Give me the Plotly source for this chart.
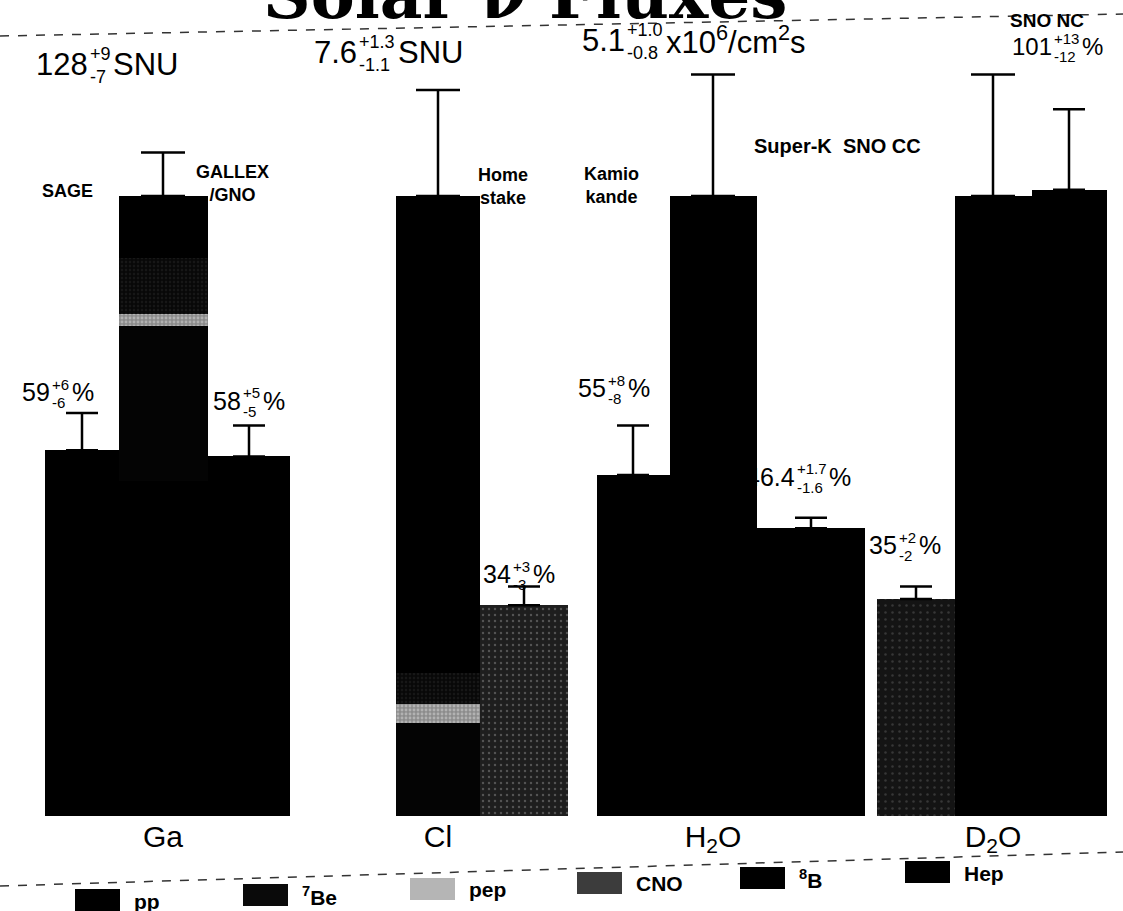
import plotly.graph_objects as go

# ---------------- data ----------------
targets = ["Ga", "Cl", "H<sub>2</sub>O", "D<sub>2</sub>O"]
components = ["pp", "<sup>7</sup>Be", "pep", "CNO", "<sup>8</sup>B", "Hep"]
# SSM prediction split by source, % of each target's total prediction
ssm_pp = [54, 0, 0, 0]
ssm_be7 = [25, 15, 0, 0]
ssm_pep = [2, 3, 0, 0]
ssm_cno = [9, 5, 0, 0]
ssm_b8 = [10, 77, 100, 100]
ssm_hep = [0, 0, 0, 0]
# SSM absolute rates written above the bars (D2O uses the same 8B flux as H2O)
ssm_rate = [128, 7.6, 5.1, 5.1]
ssm_rate_plus = [9, 1.3, 1.0, 1.0]
ssm_rate_minus = [7, 1.1, 0.8, 0.8]
ssm_unit = ["SNU", "SNU", "x10<sup>6</sup>/cm<sup>2</sup>s", ""]

experiments = ["SAGE", "GALLEX/GNO", "Homestake", "Kamiokande", "Super-K", "SNO CC", "SNO NC"]
exp_pct = [59, 58, 34, 55, 46.4, 35, 101]
exp_err_plus = [6, 5, 3, 8, 1.7, 2, 13]
exp_err_minus = [6, 5, 3, 8, 1.6, 2, 12]

# ---------------- layout (positions / styles) ----------------
W, H = 1123, 911
BASE_PX, PX_PER = 816.0, 6.2          # pixel of 0 %, pixels per 1 %
MB = H - BASE_PX

ssm_x = [163, 438, 713, 993]
ssm_w = [89, 84, 87, 77]
exp_x = [82, 249, 524, 633, 811, 916, 1069]
exp_w = [74, 82, 88, 73, 108, 78, 75]
ssm_dec = [0, 1, 1, 1]
exp_dec = [0, 0, 0, 0, 1, 0, 0]

FONT = "Liberation Sans, Arial, sans-serif"


def yp(p):
    return (BASE_PX - p) / BASE_PX


comp_values = [ssm_pp, ssm_be7, ssm_pep, ssm_cno, ssm_b8, ssm_hep]
comp_fill = ["#000000", "#040404", "#8c8c8c", "#080808", "#000000", "#000000"]
comp_pattern = [None,
                None,
                dict(shape=".", fgcolor="#d8d8d8", size=4, solidity=0.4),
                dict(shape=".", fgcolor="#262626", size=4, solidity=0.3),
                None, None]
key_fill = ["#000000", "#0a0a0a", "#b5b5b5", "#3c3c3c", "#000000", "#000000"]

exp_fill = ["#000000", "#000000", "#1e1e1e", "#000000", "#000000", "#141414", "#000000"]
exp_pattern = [None, None,
               dict(shape=".", fgcolor="#8a8a8a", size=6, solidity=0.12),
               None, None,
               dict(shape=".", fgcolor="#5a5a5a", size=7, solidity=0.1),
               None]

fig = go.Figure()

for name, vals, col, pat in zip(components, comp_values, comp_fill, comp_pattern):
    m = dict(color=col, line=dict(width=0))
    if pat:
        m["pattern"] = pat
    fig.add_trace(go.Bar(x=ssm_x, y=vals, width=ssm_w, name=name, marker=m,
                         showlegend=False, hoverinfo="skip"))

for i, name in enumerate(experiments):
    m = dict(color=exp_fill[i], line=dict(width=0))
    if exp_pattern[i]:
        m["pattern"] = exp_pattern[i]
    fig.add_trace(go.Bar(x=[exp_x[i]], y=[exp_pct[i]], width=[exp_w[i]], name=name,
                         marker=m, showlegend=False, hoverinfo="skip"))

ssm_tot = [sum(c[i] for c in comp_values) for i in range(len(targets))]
ssm_err_pct = [100.0 * p / r for p, r in zip(ssm_rate_plus, ssm_rate)]
# only the upper whiskers are visible in the reference
fig.add_trace(go.Scatter(
    x=ssm_x, y=ssm_tot, mode="markers",
    marker=dict(size=2, color="rgba(0,0,0,0)"),
    error_y=dict(type="data", symmetric=False, array=ssm_err_pct, arrayminus=[0] * len(ssm_x),
                 color="#000", thickness=2.5, width=22),
    showlegend=False, hoverinfo="skip"))
fig.add_trace(go.Scatter(
    x=exp_x, y=exp_pct, mode="markers",
    marker=dict(size=2, color="rgba(0,0,0,0)"),
    error_y=dict(type="data", symmetric=False, array=exp_err_plus, arrayminus=[0] * len(exp_x),
                 color="#000", thickness=2.5, width=16),
    showlegend=False, hoverinfo="skip"))

# ---------------- text ----------------
CW = {'.': .278, '+': .584, '-': .333, '%': .889, 'S': .667, 'N': .722, 'U': .722,
      'x': .5, '/': .278, 'c': .5, 'm': .833, 's': .5, ' ': .278}


def tw(t):
    return sum(CW.get(ch, .556) for ch in t)


def f(v, d):
    return ("%%.%df" % d) % v


ann = []


def txt(x, ypx, text, size, bold=False, anchor="left", family=FONT):
    ann.append(dict(x=x, y=yp(ypx), xref="x", yref="paper",
                    text=("<b>%s</b>" % text) if bold else text,
                    showarrow=False, xanchor=anchor, yanchor="middle",
                    font=dict(size=size, color="#000", family=family)))


def stacked(x, ypx, main, sup, sub, tail, size, small):
    txt(x, ypx, main, size)
    xs = x + tw(main) * size + 2
    txt(xs, ypx - 0.32 * size, sup, small)
    txt(xs, ypx + 0.42 * size, sub, small)
    txt(xs + max(tw(sup), tw(sub)) * small + 3, ypx, tail, size)


ssm_lab_pos = [(34, 64), (312, 52), (580, 40)]
for i, (lx, ly) in enumerate(ssm_lab_pos):
    d = ssm_dec[i]
    stacked(lx, ly, f(ssm_rate[i], d), "+" + f(ssm_rate_plus[i], d), "-" + f(ssm_rate_minus[i], d),
            ssm_unit[i], 31, 18)

exp_lab_pos = [(20, 392, 25), (211, 401, 25), (481, 574, 25), (576, 388, 25),
               (744, 477, 25), (867, 545, 25), (1010, 46, 24)]
for i, (lx, ly, sz) in enumerate(exp_lab_pos):
    d = exp_dec[i]
    stacked(lx, ly, f(exp_pct[i], d), "+" + f(exp_err_plus[i], d), "-" + f(exp_err_minus[i], d),
            "%", sz, 15)

txt(1008, 20, "SNO NC", 19, bold=True)
txt(40, 191, "SAGE", 18, bold=True)
txt(232, 184, "GALLEX<br>/GNO", 18, bold=True, anchor="center")
txt(503, 187, "Home<br>stake", 18, bold=True, anchor="center")
txt(611, 186, "Kamio<br>kande", 18, bold=True, anchor="center")
txt(752, 146, "Super-K  SNO CC", 20, bold=True)

# title (cut off by the top edge, as in the scan)
ann.append(dict(x=525, y=yp(36), xref="x", yref="paper", text="<b>Solar \u03bd Fluxes</b>",
                showarrow=False, xanchor="center", yanchor="bottom",
                font=dict(size=66, color="#000", family="DejaVu Serif, serif")))

# key drawn under the axis
leg_x = [75, 243, 410, 577, 740, 905]
leg_y = [900, 895, 889, 883, 878, 872]
shapes = []
for name, col, lx, ly in zip(components, key_fill, leg_x, leg_y):
    shapes.append(dict(type="rect", xref="x", yref="paper", x0=lx, x1=lx + 45,
                       y0=yp(ly + 11), y1=yp(ly - 11), line=dict(width=0), fillcolor=col))
    txt(lx + 57, ly + 1, name, 21, bold=True)

# dashed guide lines of the scanned page
shapes.append(dict(type="line", xref="x", yref="paper", x0=0, x1=W, y0=yp(36), y1=yp(14),
                   line=dict(color="#333", width=1.5, dash="dash")))
shapes.append(dict(type="line", xref="x", yref="paper", x0=0, x1=W, y0=yp(886), y1=yp(852),
                   line=dict(color="#333", width=1.5, dash="dash")))

fig.update_layout(
    width=W, height=H, barmode="stack", bargap=0,
    margin=dict(l=0, r=0, t=0, b=MB, pad=0),
    paper_bgcolor="white", plot_bgcolor="white",
    annotations=ann, shapes=shapes,
    xaxis=dict(range=[0, W], showgrid=False, zeroline=False, showline=False,
               tickmode="array", tickvals=ssm_x, ticktext=targets, ticks="", ticklen=0,
               tickfont=dict(size=30, family=FONT, color="#000")),
    yaxis=dict(range=[0, BASE_PX / PX_PER], visible=False),
    font=dict(family=FONT, color="#000"),
)

fig.write_html("out.html", config={"displayModeBar": False},
               post_script="document.body.style.margin='0';")
